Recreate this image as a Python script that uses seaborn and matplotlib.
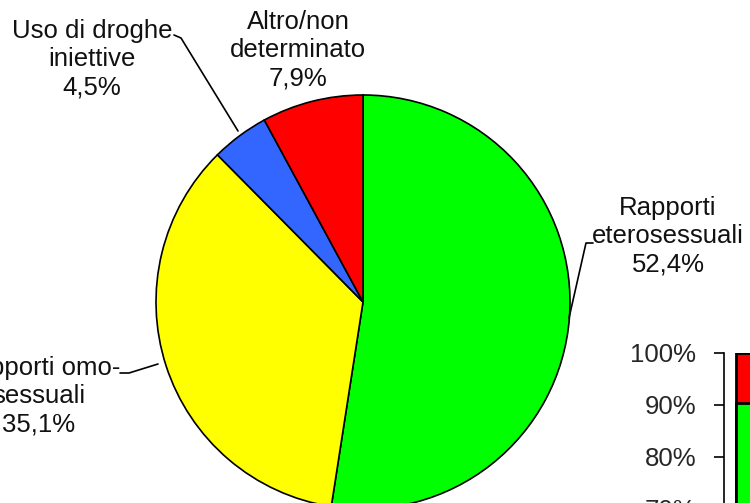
import matplotlib
matplotlib.use("Agg")
import matplotlib.pyplot as plt
import seaborn as sns
import pandas as pd

sns.set_style("white")
plt.rcParams['font.family'] = ['Liberation Sans', 'DejaVu Sans']

# Pie data
categories = ["Rapporti\neterosessuali", "Rapporti omo-\nsessuali", "Uso di droghe\niniettive", "Altro/non\ndeterminato"]
values = [52.4, 35.1, 4.5, 7.9]
value_labels = ["52,4%", "35,1%", "4,5%", "7,9%"]
colors = ["#00FF00", "#FFFF00", "#3366FF", "#FF0000"]

# Stacked bar data (partially visible)
bar_segments = ["green", "red"]
bar_values = [90.3, 9.7]
bar_colors = ["#00FF00", "#FF0000"]
bar_ticks = [70, 80, 90, 100]
bar_ticklabels = ["70%", "80%", "90%", "100%"]

W, H = 750, 503
fig = plt.figure(figsize=(7.5, 5.03), dpi=100)
ax = fig.add_axes([0, 0, 1, 1])

cx, cy, r = 363, H - 302, 207
ax.pie(values, colors=colors, startangle=90, counterclock=False,
       center=(cx, cy), radius=r, frame=True,
       wedgeprops=dict(edgecolor='black', linewidth=1.2))
ax.set_xlim(0, W)
ax.set_ylim(0, H)
ax.set_aspect('equal')
ax.axis('off')

fs = 18.5
label_pos = [(668, H - 236), (39, H - 396), (92, H - 59), (298, H - 50)]
for cat, vl, (x, y) in zip(categories, value_labels, label_pos):
    ax.text(x, y, cat + "\n" + vl, ha='center', va='center', fontsize=fs,
            linespacing=1.22, color='#111111')

# leader lines
ax.plot([593, 586, 569], [H - 243, H - 243, H - 318], color='black', lw=1.2)
ax.plot([120, 129, 158], [H - 373, H - 373, H - 364], color='black', lw=1.2)
ax.plot([174, 181, 238], [H - 35, H - 38, H - 131], color='black', lw=1.2)

# partial stacked bar chart
left_px, top_px = 724, 353
px_per_pct = 5.2
height_px = 100 * px_per_pct
bax = fig.add_axes([left_px / W, (H - top_px - height_px) / H, 100 / W, height_px / H])
df = pd.DataFrame({"x": ["a"], "green": [bar_values[0]], "total": [sum(bar_values)]})
sns.barplot(data=df, x="x", y="total", color=bar_colors[1], ax=bax, saturation=1,
            edgecolor='black', linewidth=2, width=0.8)
sns.barplot(data=df, x="x", y="green", color=bar_colors[0], ax=bax, saturation=1,
            edgecolor='black', linewidth=2, width=0.8)
bax.set_xlim(-0.52, 0.48)
bax.set_ylim(0, 100)
bax.set_yticks(bar_ticks)
bax.set_yticklabels(bar_ticklabels, fontsize=fs)
bax.tick_params(axis='y', length=7, width=1.2, color='black', direction='out', pad=13, left=True)
bax.set_xticks([])
bax.set_xlabel("")
bax.set_ylabel("")
for s in ['top', 'right', 'bottom']:
    bax.spines[s].set_visible(False)
bax.spines['left'].set_color('black')
bax.spines['left'].set_linewidth(1.2)
bax.patch.set_alpha(0)

fig.savefig("out.png", dpi=100)
